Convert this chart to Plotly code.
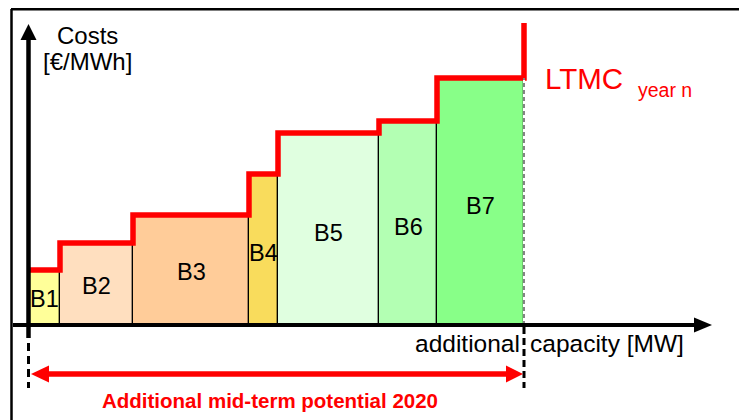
import plotly.graph_objects as go
import numpy as np

# ---- data (illustrative units) ----
blocks = ["B1", "B2", "B3", "B4", "B5", "B6", "B7"]
capacity_mw = [31, 73, 116, 29, 101, 58, 87]          # block widths (additional capacity)
cost_eur_mwh = [55, 82, 110, 151, 192, 204, 247]      # block costs (heights)
ltmc_cap = 302                                         # top of final LTMC riser
block_colors = ["#FFFF99", "#FFDFBF", "#FFCC99", "#F9DC5C", "#E0FFE0", "#B3FFB3", "#88FF88"]

edges = np.concatenate([[0], np.cumsum(capacity_mw)])
centers = (edges[:-1] + edges[1:]) / 2
total = edges[-1]

FONT = "Arial, Liberation Sans, sans-serif"
RED = "#FF0000"

fig = go.Figure()
fig.add_trace(go.Bar(
    x=centers, y=cost_eur_mwh, width=capacity_mw,
    marker=dict(color=block_colors, line=dict(color="black", width=1.2)),
    hoverinfo="skip", showlegend=False))

fig.add_trace(go.Scatter(
    x=list(edges), y=cost_eur_mwh + [ltmc_cap], mode="lines", line_shape="hv",
    line=dict(color=RED, width=5.5), hoverinfo="skip", showlegend=False))

shapes = []
# frame
shapes.append(dict(type="line", x0=-18, x1=730, y0=315.7, y1=315.7, line=dict(color="black", width=2.5)))
shapes.append(dict(type="line", x0=-17.5, x1=-17.5, y0=316, y1=-110, line=dict(color="black", width=2.5)))
# B7 right edge dashed
shapes.append(dict(type="line", x0=total, x1=total, y0=0, y1=cost_eur_mwh[-1], line=dict(color="white", width=2)))
shapes.append(dict(type="line", x0=total, x1=total, y0=0, y1=cost_eur_mwh[-1], line=dict(color="#333333", width=1.2, dash="4px,3px")))
# y axis
shapes.append(dict(type="line", x0=-0.5, x1=-0.5, y0=-13, y1=286, line=dict(color="black", width=4.5)))
shapes.append(dict(type="path", path="M -0.5 301 L -8.5 285 L 7.5 285 Z", fillcolor="black", line=dict(width=0)))
shapes.append(dict(type="line", x0=-0.5, x1=-0.5, y0=-18, y1=-63, line=dict(color="black", width=3, dash="8px,5px")))
# x axis
shapes.append(dict(type="line", x0=-16, x1=667, y0=0, y1=0, line=dict(color="black", width=4)))
shapes.append(dict(type="path", path="M 683 0 L 665 7.5 L 665 -7.5 Z", fillcolor="black", line=dict(width=0)))
# right dashed
shapes.append(dict(type="line", x0=total, x1=total, y0=-2, y1=-63, line=dict(color="black", width=3, dash="7px,4px")))
# red double arrow
shapes.append(dict(type="line", x0=18, x1=479, y0=-49, y1=-49, line=dict(color=RED, width=5.5)))
shapes.append(dict(type="path", path="M 2 -49 L 20 -40.5 L 20 -57.5 Z", fillcolor=RED, line=dict(width=0)))
shapes.append(dict(type="path", path="M 494 -49 L 477 -40.5 L 477 -57.5 Z", fillcolor=RED, line=dict(width=0)))
for s in shapes:
    s.setdefault("layer", "above")
    s["xref"] = "x"
    s["yref"] = "y"

ann = []
for name, c, h in zip(blocks, centers, cost_eur_mwh):
    ann.append(dict(x=c, y=h * 0.48, text=name, showarrow=False,
                    font=dict(family=FONT, size=23.5, color="black"), xanchor="center", yanchor="middle"))
ann.append(dict(x=58, y=290, text="Costs", showarrow=False, font=dict(family=FONT, size=24, color="black")))
ann.append(dict(x=58, y=264, text="[€/MWh]", showarrow=False, font=dict(family=FONT, size=24, color="black")))
ann.append(dict(x=384, y=-18.5, text="additional", showarrow=False, xanchor="left",
                font=dict(family=FONT, size=24.5, color="black")))
ann.append(dict(x=499, y=-18.5, text="capacity [MW]", showarrow=False, xanchor="left",
                font=dict(family=FONT, size=24.5, color="black")))
ann.append(dict(x=241, y=-75, text="<b>Additional mid-term potential 2020</b>", showarrow=False,
                font=dict(family=FONT, size=20.5, color=RED)))
ann.append(dict(x=514, y=247, text="LTMC", showarrow=False, xanchor="left", yanchor="middle",
                font=dict(family=FONT, size=29.5, color=RED)))
ann.append(dict(x=607, y=235, text="year n", showarrow=False, xanchor="left", yanchor="middle",
                font=dict(family=FONT, size=19.5, color=RED)))

# page has an 8px body margin: map data so that visible page pixels line up
fig.update_layout(
    width=747, height=420, margin=dict(l=0, r=0, t=0, b=0),
    paper_bgcolor="white", plot_bgcolor="white",
    xaxis=dict(range=[-21, 726], visible=False, fixedrange=True),
    yaxis=dict(range=[-103, 317], visible=False, fixedrange=True),
    shapes=shapes, annotations=ann, bargap=0, showlegend=False)

fig.write_html("out.html")
